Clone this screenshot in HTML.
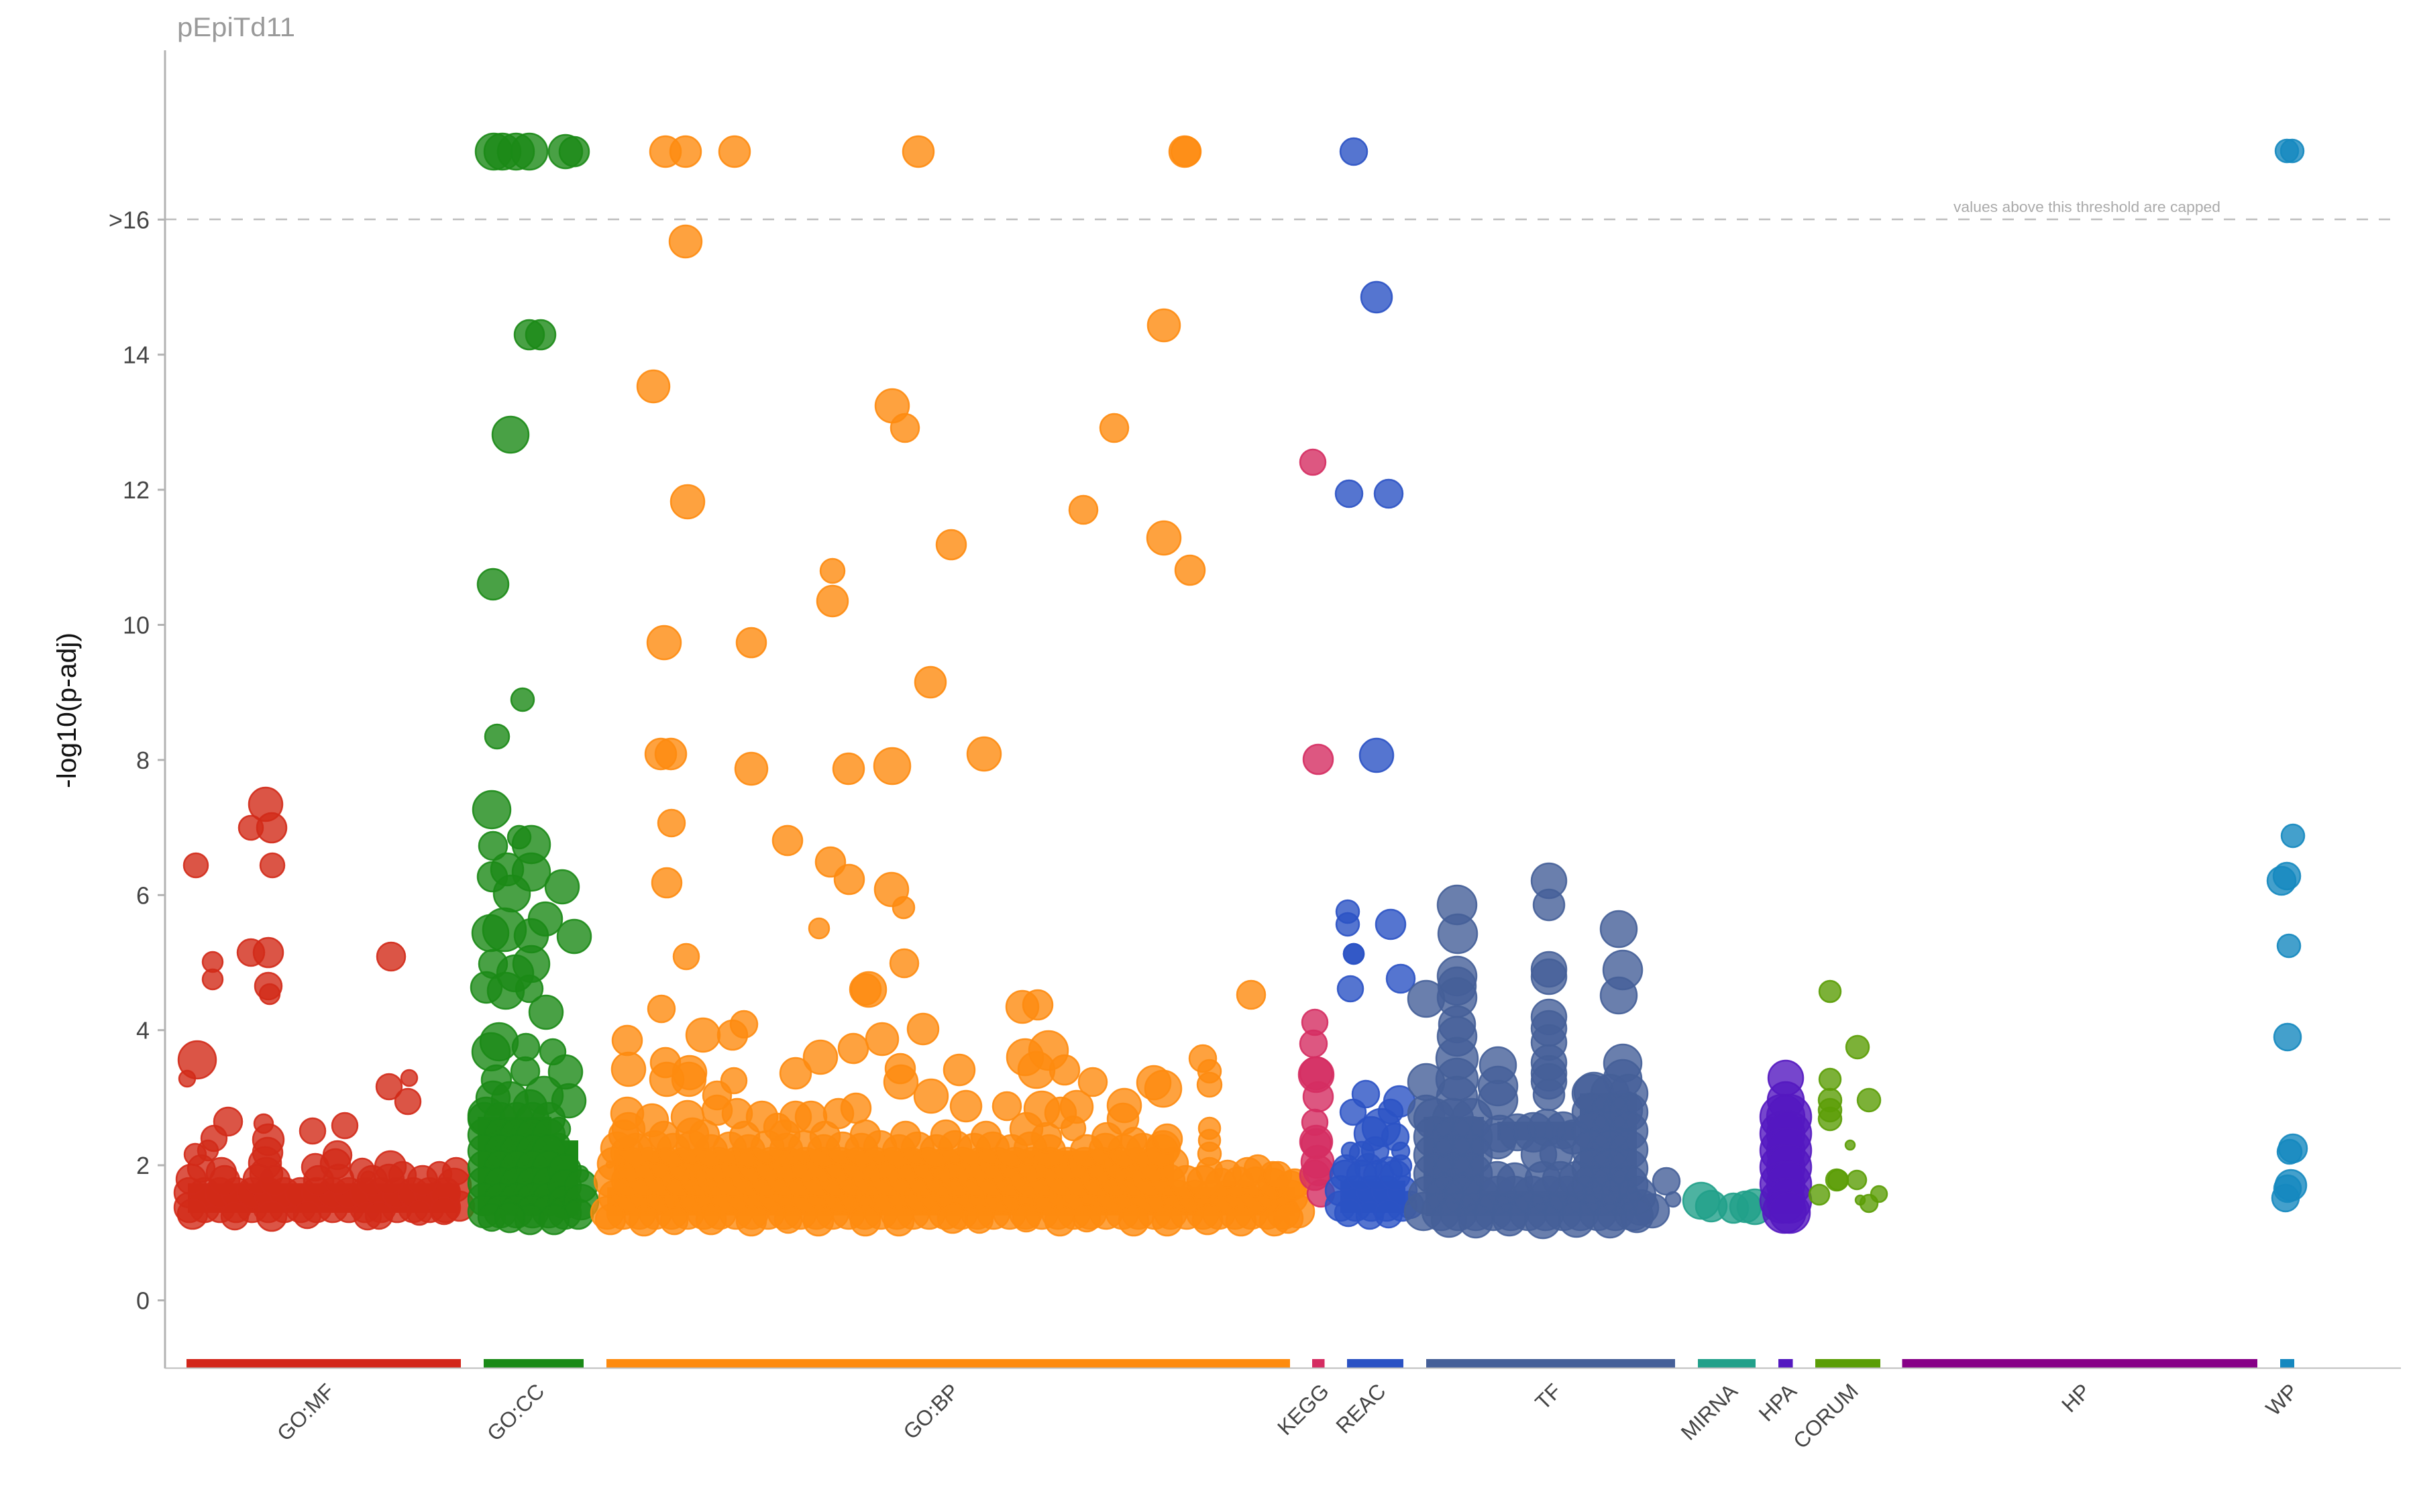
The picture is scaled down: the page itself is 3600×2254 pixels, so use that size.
<!DOCTYPE html>
<html><head><meta charset="utf-8"><style>
html,body{margin:0;padding:0;background:#fff}
svg{display:block}
text{font-family:"Liberation Sans",Arial,sans-serif}
.p circle{fill-opacity:.8;stroke-width:2.5;stroke-opacity:.9}
.mf{fill:#d22a18;stroke:#d22a18}
.cc{fill:#1b8a16;stroke:#1b8a16}
.bp{fill:#fe8b0f;stroke:#fe8b0f}
.kg{fill:#d52d62;stroke:#d52d62}
.re{fill:#2b52c4;stroke:#2b52c4}
.tf{fill:#455f98;stroke:#455f98}
.mi{fill:#21a08a;stroke:#21a08a}
.hpa{fill:#5418c0;stroke:#5418c0}
.co{fill:#5b9d06;stroke:#5b9d06}
.wp{fill:#1588bf;stroke:#1588bf}
</style></head><body>
<svg width="3600" height="2254" viewBox="0 0 3600 2254" xmlns="http://www.w3.org/2000/svg">
<rect width="3600" height="2254" fill="#fff"/>
<text x="264" y="54" font-size="40" fill="#9a9a9a" textLength="176" lengthAdjust="spacingAndGlyphs">pEpiTd11</text>
<line x1="246" y1="327" x2="3565" y2="327" stroke="#bdbdbd" stroke-width="2.5" stroke-dasharray="17 16"/>
<text x="3310" y="316" text-anchor="end" font-size="22" fill="#aaaaaa" textLength="398" lengthAdjust="spacingAndGlyphs">values above this threshold are capped</text>
<g stroke="#b3b3b3" stroke-width="3">
<line x1="246" y1="75" x2="246" y2="2040"/>
<line x1="235" y1="1938.5" x2="246" y2="1938.5"/>
<line x1="235" y1="1737.1" x2="246" y2="1737.1"/>
<line x1="235" y1="1535.7" x2="246" y2="1535.7"/>
<line x1="235" y1="1334.3" x2="246" y2="1334.3"/>
<line x1="235" y1="1132.9" x2="246" y2="1132.9"/>
<line x1="235" y1="931.5" x2="246" y2="931.5"/>
<line x1="235" y1="730.1" x2="246" y2="730.1"/>
<line x1="235" y1="528.7" x2="246" y2="528.7"/>
<line x1="235" y1="327.3" x2="246" y2="327.3"/>
</g>
<g font-size="36" fill="#444" text-anchor="end">
<text x="223" y="1951.5">0</text>
<text x="223" y="1750">2</text>
<text x="223" y="1548.7">4</text>
<text x="223" y="1347.3">6</text>
<text x="223" y="1145.9">8</text>
<text x="223" y="944.5">10</text>
<text x="223" y="743">12</text>
<text x="223" y="541.7">14</text>
<text x="223" y="340.3">&gt;16</text>
</g>
<text transform="translate(113,1059) rotate(-90)" text-anchor="middle" font-size="40" fill="#111" textLength="232" lengthAdjust="spacingAndGlyphs">-log10(p-adj)</text>

<!-- GO:MF -->
<g class="p mf">
<rect x="280" y="1764" width="405" height="44" stroke="none" fill-opacity="1"/>
<circle cx="396" cy="1199" r="25"/><circle cx="374" cy="1234" r="18"/><circle cx="405" cy="1234" r="22"/>
<circle cx="292" cy="1290" r="18"/><circle cx="406" cy="1290" r="18"/><circle cx="374" cy="1420" r="20"/>
<circle cx="400" cy="1420" r="22"/><circle cx="317" cy="1434" r="15"/><circle cx="317" cy="1460" r="15"/>
<circle cx="400" cy="1470" r="20"/><circle cx="402" cy="1482" r="15"/><circle cx="583" cy="1426" r="21"/>
<circle cx="294" cy="1580" r="28"/><circle cx="279" cy="1608" r="12"/><circle cx="580" cy="1620" r="19"/>
<circle cx="610" cy="1607" r="12"/><circle cx="608" cy="1642" r="19"/><circle cx="340" cy="1672" r="21"/>
<circle cx="393" cy="1675" r="14"/><circle cx="319" cy="1697" r="19"/><circle cx="466" cy="1686" r="19"/>
<circle cx="514" cy="1678" r="19"/><circle cx="400" cy="1699" r="23"/><circle cx="399" cy="1718" r="22"/>
<circle cx="503" cy="1722" r="21"/><circle cx="582" cy="1739" r="23"/><circle cx="291" cy="1721" r="16"/>
<circle cx="310" cy="1715" r="15"/><circle cx="677" cy="1767" r="25"/><circle cx="549" cy="1757" r="11"/>
<circle cx="300" cy="1742" r="20"/><circle cx="330" cy="1748" r="22"/><circle cx="395" cy="1734" r="24"/>
<circle cx="397" cy="1750" r="24"/><circle cx="470" cy="1740" r="20"/><circle cx="500" cy="1735" r="22"/>
<circle cx="540" cy="1745" r="18"/><circle cx="600" cy="1752" r="20"/><circle cx="655" cy="1750" r="18"/><circle cx="680" cy="1746" r="20"/>
<circle cx="282" cy="1800" r="22"/><circle cx="305" cy="1800" r="22"/><circle cx="328" cy="1800" r="22"/><circle cx="352" cy="1800" r="22"/>
<circle cx="376" cy="1800" r="22"/><circle cx="400" cy="1800" r="22"/><circle cx="424" cy="1800" r="22"/><circle cx="448" cy="1800" r="22"/>
<circle cx="472" cy="1800" r="22"/><circle cx="496" cy="1800" r="22"/><circle cx="520" cy="1800" r="22"/><circle cx="544" cy="1800" r="22"/>
<circle cx="568" cy="1800" r="22"/><circle cx="592" cy="1800" r="22"/><circle cx="616" cy="1800" r="22"/><circle cx="640" cy="1800" r="22"/>
<circle cx="664" cy="1800" r="22"/><circle cx="685" cy="1798" r="22"/>
<circle cx="282" cy="1778" r="22"/><circle cx="305" cy="1778" r="22"/><circle cx="328" cy="1778" r="22"/><circle cx="352" cy="1778" r="22"/>
<circle cx="376" cy="1778" r="22"/><circle cx="400" cy="1778" r="22"/><circle cx="424" cy="1778" r="22"/><circle cx="448" cy="1778" r="22"/>
<circle cx="472" cy="1778" r="22"/><circle cx="496" cy="1778" r="22"/><circle cx="520" cy="1778" r="22"/><circle cx="544" cy="1778" r="22"/>
<circle cx="568" cy="1778" r="22"/><circle cx="592" cy="1778" r="22"/><circle cx="616" cy="1778" r="22"/><circle cx="640" cy="1778" r="22"/>
<circle cx="664" cy="1778" r="22"/>
<circle cx="285" cy="1758" r="22"/><circle cx="335" cy="1760" r="22"/><circle cx="385" cy="1758" r="22"/>
<circle cx="410" cy="1760" r="22"/><circle cx="475" cy="1760" r="22"/><circle cx="505" cy="1758" r="22"/>
<circle cx="555" cy="1760" r="22"/><circle cx="580" cy="1758" r="22"/><circle cx="630" cy="1760" r="22"/>
<circle cx="287" cy="1810" r="22"/><circle cx="350" cy="1813" r="20"/><circle cx="405" cy="1813" r="22"/><circle cx="458" cy="1811" r="20"/>
<circle cx="548" cy="1813" r="20"/><circle cx="565" cy="1812" r="20"/><circle cx="625" cy="1808" r="18"/><circle cx="662" cy="1805" r="20"/>
</g>

<!-- GO:CC -->
<g class="p cc">
<rect x="712" y="1700" width="150" height="112" stroke="none" fill-opacity="1"/>
<rect x="712" y="1665" width="110" height="40" stroke="none" fill-opacity="1"/>
<circle cx="736" cy="226" r="27"/><circle cx="749" cy="226" r="27"/><circle cx="769" cy="226" r="27"/><circle cx="789" cy="226" r="27"/>
<circle cx="843" cy="226" r="25"/><circle cx="856" cy="226" r="22"/>
<circle cx="789" cy="499" r="22"/><circle cx="806" cy="499" r="22"/><circle cx="761" cy="648" r="27"/><circle cx="735" cy="871" r="23"/>
<circle cx="779" cy="1043" r="17"/><circle cx="741" cy="1098" r="18"/><circle cx="733" cy="1207" r="28"/>
<circle cx="735" cy="1261" r="21"/><circle cx="774" cy="1248" r="17"/><circle cx="792" cy="1259" r="28"/>
<circle cx="734" cy="1307" r="22"/><circle cx="756" cy="1296" r="24"/><circle cx="792" cy="1300" r="28"/>
<circle cx="763" cy="1332" r="27"/><circle cx="838" cy="1322" r="25"/><circle cx="813" cy="1370" r="25"/>
<circle cx="856" cy="1396" r="25"/><circle cx="731" cy="1391" r="27"/><circle cx="752" cy="1386" r="32"/>
<circle cx="792" cy="1395" r="25"/><circle cx="735" cy="1437" r="21"/><circle cx="792" cy="1437" r="27"/>
<circle cx="725" cy="1472" r="23"/><circle cx="754" cy="1477" r="27"/><circle cx="789" cy="1474" r="20"/>
<circle cx="768" cy="1451" r="27"/><circle cx="814" cy="1509" r="25"/><circle cx="732" cy="1568" r="28"/>
<circle cx="744" cy="1553" r="28"/><circle cx="784" cy="1561" r="20"/><circle cx="783" cy="1597" r="21"/>
<circle cx="824" cy="1568" r="19"/><circle cx="843" cy="1598" r="25"/><circle cx="811" cy="1633" r="28"/>
<circle cx="848" cy="1641" r="25"/><circle cx="725" cy="1663" r="27"/><circle cx="833" cy="1683" r="17"/>
<circle cx="834" cy="1705" r="15"/><circle cx="740" cy="1610" r="22"/><circle cx="735" cy="1637" r="25"/>
<circle cx="760" cy="1640" r="27"/><circle cx="790" cy="1650" r="25"/><circle cx="865" cy="1750" r="12"/>
<circle cx="722" cy="1668" r="24"/><circle cx="746" cy="1668" r="24"/><circle cx="770" cy="1668" r="24"/><circle cx="794" cy="1668" r="24"/><circle cx="818" cy="1668" r="24"/>
<circle cx="722" cy="1692" r="24"/><circle cx="746" cy="1692" r="24"/><circle cx="770" cy="1692" r="24"/><circle cx="794" cy="1692" r="24"/><circle cx="818" cy="1692" r="24"/>
<circle cx="722" cy="1716" r="24"/><circle cx="746" cy="1716" r="24"/><circle cx="770" cy="1716" r="24"/><circle cx="794" cy="1716" r="24"/><circle cx="818" cy="1716" r="24"/>
<circle cx="722" cy="1740" r="24"/><circle cx="746" cy="1740" r="24"/><circle cx="770" cy="1740" r="24"/><circle cx="794" cy="1740" r="24"/><circle cx="818" cy="1740" r="24"/>
<circle cx="722" cy="1764" r="24"/><circle cx="746" cy="1764" r="24"/><circle cx="770" cy="1764" r="24"/><circle cx="794" cy="1764" r="24"/><circle cx="818" cy="1764" r="24"/>
<circle cx="722" cy="1788" r="24"/><circle cx="746" cy="1788" r="24"/><circle cx="770" cy="1788" r="24"/><circle cx="794" cy="1788" r="24"/><circle cx="818" cy="1788" r="24"/>
<circle cx="722" cy="1806" r="24"/><circle cx="746" cy="1806" r="24"/><circle cx="770" cy="1806" r="24"/><circle cx="794" cy="1806" r="24"/><circle cx="818" cy="1806" r="24"/>
<circle cx="842" cy="1745" r="24"/><circle cx="842" cy="1768" r="24"/><circle cx="842" cy="1792" r="24"/><circle cx="842" cy="1808" r="24"/>
<circle cx="866" cy="1768" r="24"/><circle cx="866" cy="1792" r="26"/><circle cx="862" cy="1810" r="22"/>
<circle cx="733" cy="1815" r="20"/><circle cx="790" cy="1818" r="22"/><circle cx="826" cy="1818" r="22"/><circle cx="760" cy="1815" r="22"/>
</g>

<!-- GO:BP -->
<g class="p bp">
<rect x="905" y="1770" width="1025" height="42" stroke="none" fill-opacity="1"/>
<rect x="915" y="1715" width="835" height="57" stroke="none" fill-opacity="1"/>
<circle cx="992" cy="226" r="23"/><circle cx="1022" cy="226" r="23"/><circle cx="1095" cy="226" r="23"/>
<circle cx="1369" cy="226" r="23"/><circle cx="1766" cy="226" r="23"/><circle cx="1768" cy="226" r="22"/>
<circle cx="1022" cy="360" r="24"/><circle cx="974" cy="576" r="24"/><circle cx="1025" cy="748" r="25"/>
<circle cx="1241" cy="851" r="18"/><circle cx="1241" cy="896" r="23"/><circle cx="990" cy="958" r="25"/>
<circle cx="1120" cy="958" r="22"/><circle cx="985" cy="1124" r="23"/><circle cx="1000" cy="1124" r="23"/>
<circle cx="1120" cy="1146" r="24"/><circle cx="1265" cy="1146" r="23"/><circle cx="1735" cy="485" r="24"/>
<circle cx="1330" cy="605" r="25"/><circle cx="1349" cy="638" r="21"/><circle cx="1661" cy="638" r="21"/>
<circle cx="1615" cy="760" r="21"/><circle cx="1418" cy="812" r="22"/><circle cx="1735" cy="802" r="25"/>
<circle cx="1774" cy="850" r="22"/><circle cx="1387" cy="1017" r="23"/><circle cx="1330" cy="1142" r="27"/>
<circle cx="1467" cy="1124" r="25"/><circle cx="1001" cy="1227" r="20"/><circle cx="1174" cy="1253" r="22"/>
<circle cx="1238" cy="1285" r="22"/><circle cx="1266" cy="1311" r="22"/><circle cx="994" cy="1316" r="22"/>
<circle cx="1221" cy="1384" r="15"/><circle cx="1023" cy="1426" r="19"/><circle cx="1290" cy="1475" r="23"/>
<circle cx="986" cy="1504" r="20"/><circle cx="1048" cy="1543" r="25"/><circle cx="1092" cy="1543" r="22"/>
<circle cx="1109" cy="1527" r="20"/><circle cx="935" cy="1551" r="22"/><circle cx="937" cy="1594" r="25"/>
<circle cx="992" cy="1584" r="22"/><circle cx="994" cy="1609" r="25"/><circle cx="1027" cy="1609" r="25"/>
<circle cx="1028" cy="1599" r="25"/><circle cx="1094" cy="1611" r="19"/><circle cx="1069" cy="1633" r="21"/>
<circle cx="1223" cy="1576" r="25"/><circle cx="1186" cy="1600" r="23"/><circle cx="1272" cy="1563" r="22"/>
<circle cx="1329" cy="1326" r="25"/><circle cx="1347" cy="1353" r="16"/><circle cx="1348" cy="1436" r="21"/>
<circle cx="1295" cy="1475" r="26"/><circle cx="1524" cy="1501" r="24"/><circle cx="1547" cy="1498" r="22"/>
<circle cx="1865" cy="1483" r="21"/><circle cx="1315" cy="1549" r="24"/><circle cx="1376" cy="1534" r="23"/>
<circle cx="1342" cy="1593" r="22"/><circle cx="1343" cy="1613" r="25"/><circle cx="1430" cy="1595" r="23"/>
<circle cx="1528" cy="1576" r="27"/><circle cx="1563" cy="1566" r="29"/><circle cx="1545" cy="1595" r="27"/>
<circle cx="1587" cy="1595" r="22"/><circle cx="1629" cy="1613" r="21"/><circle cx="1793" cy="1578" r="20"/>
<circle cx="1803" cy="1597" r="17"/><circle cx="1803" cy="1617" r="18"/><circle cx="1720" cy="1614" r="25"/>
<circle cx="1734" cy="1623" r="27"/><circle cx="1388" cy="1634" r="25"/><circle cx="1440" cy="1649" r="23"/>
<circle cx="1501" cy="1649" r="21"/><circle cx="1553" cy="1653" r="26"/><circle cx="1581" cy="1659" r="23"/>
<circle cx="1605" cy="1650" r="24"/><circle cx="1676" cy="1648" r="25"/><circle cx="1674" cy="1668" r="23"/>
<circle cx="1803" cy="1682" r="16"/><circle cx="1803" cy="1700" r="16"/><circle cx="1803" cy="1720" r="17"/>
<circle cx="1803" cy="1745" r="19"/><circle cx="1530" cy="1683" r="24"/><circle cx="1600" cy="1682" r="18"/>
<circle cx="1690" cy="1700" r="19"/><circle cx="1734" cy="1711" r="25"/><circle cx="1875" cy="1742" r="20"/>
<circle cx="1897" cy="1750" r="18"/><circle cx="935" cy="1660" r="24"/><circle cx="937" cy="1683" r="24"/>
<circle cx="972" cy="1670" r="24"/><circle cx="1025" cy="1665" r="24"/><circle cx="1032" cy="1691" r="24"/>
<circle cx="1069" cy="1655" r="22"/><circle cx="1099" cy="1660" r="22"/><circle cx="1136" cy="1665" r="23"/>
<circle cx="1159" cy="1680" r="20"/><circle cx="1186" cy="1665" r="23"/><circle cx="1209" cy="1665" r="23"/>
<circle cx="1250" cy="1660" r="22"/><circle cx="1276" cy="1652" r="22"/><circle cx="935" cy="1719" r="24"/>
<circle cx="909" cy="1736" r="5"/>
<circle cx="905" cy="1808" r="24"/><circle cx="929" cy="1808" r="24"/><circle cx="953" cy="1808" r="24"/><circle cx="977" cy="1808" r="24"/>
<circle cx="1001" cy="1808" r="24"/><circle cx="1025" cy="1808" r="24"/><circle cx="1049" cy="1808" r="24"/><circle cx="1073" cy="1808" r="24"/>
<circle cx="1097" cy="1808" r="24"/><circle cx="1121" cy="1808" r="24"/><circle cx="1145" cy="1808" r="24"/><circle cx="1169" cy="1808" r="24"/>
<circle cx="1193" cy="1808" r="24"/><circle cx="1217" cy="1808" r="24"/><circle cx="1241" cy="1808" r="24"/><circle cx="1265" cy="1808" r="24"/>
<circle cx="1289" cy="1808" r="24"/><circle cx="1313" cy="1808" r="24"/><circle cx="1337" cy="1808" r="24"/><circle cx="1361" cy="1808" r="24"/>
<circle cx="1385" cy="1808" r="24"/><circle cx="1409" cy="1808" r="24"/><circle cx="1433" cy="1808" r="24"/><circle cx="1457" cy="1808" r="24"/>
<circle cx="1481" cy="1808" r="24"/><circle cx="1505" cy="1808" r="24"/><circle cx="1529" cy="1808" r="24"/><circle cx="1553" cy="1808" r="24"/>
<circle cx="1577" cy="1808" r="24"/><circle cx="1601" cy="1808" r="24"/><circle cx="1625" cy="1808" r="24"/><circle cx="1649" cy="1808" r="24"/>
<circle cx="1673" cy="1808" r="24"/><circle cx="1697" cy="1808" r="24"/><circle cx="1721" cy="1808" r="24"/><circle cx="1745" cy="1808" r="24"/>
<circle cx="1769" cy="1808" r="24"/><circle cx="1793" cy="1808" r="24"/><circle cx="1817" cy="1808" r="24"/><circle cx="1841" cy="1808" r="24"/>
<circle cx="1865" cy="1808" r="24"/><circle cx="1889" cy="1808" r="24"/><circle cx="1913" cy="1808" r="24"/><circle cx="1935" cy="1806" r="24"/>
<circle cx="917" cy="1784" r="24"/><circle cx="941" cy="1784" r="24"/><circle cx="965" cy="1784" r="24"/><circle cx="989" cy="1784" r="24"/>
<circle cx="1013" cy="1784" r="24"/><circle cx="1037" cy="1784" r="24"/><circle cx="1061" cy="1784" r="24"/><circle cx="1085" cy="1784" r="24"/>
<circle cx="1109" cy="1784" r="24"/><circle cx="1133" cy="1784" r="24"/><circle cx="1157" cy="1784" r="24"/><circle cx="1181" cy="1784" r="24"/>
<circle cx="1205" cy="1784" r="24"/><circle cx="1229" cy="1784" r="24"/><circle cx="1253" cy="1784" r="24"/><circle cx="1277" cy="1784" r="24"/>
<circle cx="1301" cy="1784" r="24"/><circle cx="1325" cy="1784" r="24"/><circle cx="1349" cy="1784" r="24"/><circle cx="1373" cy="1784" r="24"/>
<circle cx="1397" cy="1784" r="24"/><circle cx="1421" cy="1784" r="24"/><circle cx="1445" cy="1784" r="24"/><circle cx="1469" cy="1784" r="24"/>
<circle cx="1493" cy="1784" r="24"/><circle cx="1517" cy="1784" r="24"/><circle cx="1541" cy="1784" r="24"/><circle cx="1565" cy="1784" r="24"/>
<circle cx="1589" cy="1784" r="24"/><circle cx="1613" cy="1784" r="24"/><circle cx="1637" cy="1784" r="24"/><circle cx="1661" cy="1784" r="24"/>
<circle cx="1685" cy="1784" r="24"/><circle cx="1709" cy="1784" r="24"/><circle cx="1733" cy="1784" r="24"/><circle cx="1757" cy="1784" r="24"/>
<circle cx="1781" cy="1784" r="24"/><circle cx="1805" cy="1784" r="24"/><circle cx="1829" cy="1784" r="24"/><circle cx="1853" cy="1784" r="24"/>
<circle cx="1877" cy="1784" r="24"/><circle cx="1901" cy="1784" r="24"/><circle cx="1925" cy="1784" r="24"/>
<circle cx="910" cy="1760" r="24"/><circle cx="936" cy="1760" r="24"/><circle cx="962" cy="1760" r="24"/><circle cx="988" cy="1760" r="24"/>
<circle cx="1014" cy="1760" r="24"/><circle cx="1040" cy="1760" r="24"/><circle cx="1066" cy="1760" r="24"/><circle cx="1092" cy="1760" r="24"/>
<circle cx="1118" cy="1760" r="24"/><circle cx="1144" cy="1760" r="24"/><circle cx="1170" cy="1760" r="24"/><circle cx="1196" cy="1760" r="24"/>
<circle cx="1222" cy="1760" r="24"/><circle cx="1248" cy="1760" r="24"/><circle cx="1274" cy="1760" r="24"/><circle cx="1300" cy="1760" r="24"/>
<circle cx="1326" cy="1760" r="24"/><circle cx="1352" cy="1760" r="24"/><circle cx="1378" cy="1760" r="24"/><circle cx="1404" cy="1760" r="24"/>
<circle cx="1430" cy="1760" r="24"/><circle cx="1456" cy="1760" r="24"/><circle cx="1482" cy="1760" r="24"/><circle cx="1508" cy="1760" r="24"/>
<circle cx="1534" cy="1760" r="24"/><circle cx="1560" cy="1760" r="24"/><circle cx="1586" cy="1760" r="24"/><circle cx="1612" cy="1760" r="24"/>
<circle cx="1638" cy="1760" r="24"/><circle cx="1664" cy="1760" r="24"/><circle cx="1690" cy="1760" r="24"/><circle cx="1716" cy="1760" r="24"/>
<circle cx="1742" cy="1760" r="24"/><circle cx="1768" cy="1762" r="24"/><circle cx="1794" cy="1762" r="24"/><circle cx="1820" cy="1764" r="22"/>
<circle cx="1846" cy="1762" r="22"/><circle cx="1872" cy="1762" r="22"/><circle cx="1898" cy="1764" r="22"/><circle cx="1924" cy="1768" r="22"/>
<circle cx="915" cy="1735" r="24"/><circle cx="941" cy="1735" r="24"/><circle cx="967" cy="1735" r="24"/><circle cx="993" cy="1735" r="24"/>
<circle cx="1019" cy="1735" r="24"/><circle cx="1045" cy="1735" r="24"/><circle cx="1071" cy="1735" r="24"/><circle cx="1097" cy="1735" r="24"/>
<circle cx="1123" cy="1735" r="24"/><circle cx="1149" cy="1735" r="24"/><circle cx="1175" cy="1735" r="24"/><circle cx="1201" cy="1735" r="24"/>
<circle cx="1227" cy="1735" r="24"/><circle cx="1253" cy="1735" r="24"/><circle cx="1279" cy="1735" r="24"/><circle cx="1305" cy="1735" r="24"/>
<circle cx="1331" cy="1735" r="24"/><circle cx="1357" cy="1735" r="24"/><circle cx="1383" cy="1735" r="24"/><circle cx="1409" cy="1735" r="24"/>
<circle cx="1435" cy="1735" r="24"/><circle cx="1461" cy="1735" r="24"/><circle cx="1487" cy="1735" r="24"/><circle cx="1513" cy="1735" r="24"/>
<circle cx="1539" cy="1735" r="24"/><circle cx="1565" cy="1735" r="24"/><circle cx="1591" cy="1735" r="24"/><circle cx="1617" cy="1735" r="24"/>
<circle cx="1643" cy="1735" r="24"/><circle cx="1669" cy="1735" r="24"/><circle cx="1695" cy="1735" r="24"/><circle cx="1721" cy="1735" r="24"/>
<circle cx="1747" cy="1735" r="24"/>
<circle cx="920" cy="1712" r="24"/><circle cx="948" cy="1714" r="24"/><circle cx="976" cy="1710" r="24"/><circle cx="1004" cy="1714" r="24"/>
<circle cx="1032" cy="1710" r="24"/><circle cx="1060" cy="1716" r="24"/><circle cx="1088" cy="1712" r="24"/><circle cx="1116" cy="1716" r="24"/>
<circle cx="1144" cy="1710" r="24"/><circle cx="1172" cy="1714" r="24"/><circle cx="1200" cy="1710" r="24"/><circle cx="1228" cy="1716" r="24"/>
<circle cx="1256" cy="1712" r="24"/><circle cx="1284" cy="1714" r="24"/><circle cx="1312" cy="1710" r="24"/><circle cx="1340" cy="1716" r="24"/>
<circle cx="1368" cy="1712" r="24"/><circle cx="1396" cy="1716" r="24"/><circle cx="1424" cy="1710" r="24"/><circle cx="1452" cy="1714" r="24"/>
<circle cx="1480" cy="1712" r="24"/><circle cx="1508" cy="1716" r="24"/><circle cx="1536" cy="1712" r="24"/><circle cx="1564" cy="1716" r="24"/>
<circle cx="1620" cy="1716" r="24"/><circle cx="1648" cy="1714" r="24"/><circle cx="1676" cy="1716" r="24"/><circle cx="1704" cy="1714" r="24"/>
<circle cx="1732" cy="1716" r="24"/>
<circle cx="930" cy="1692" r="22"/><circle cx="990" cy="1694" r="22"/><circle cx="1050" cy="1692" r="22"/><circle cx="1110" cy="1694" r="22"/>
<circle cx="1170" cy="1692" r="22"/><circle cx="1230" cy="1694" r="22"/><circle cx="1290" cy="1692" r="22"/><circle cx="1350" cy="1694" r="22"/>
<circle cx="1410" cy="1692" r="22"/><circle cx="1470" cy="1694" r="22"/><circle cx="1560" cy="1696" r="22"/><circle cx="1650" cy="1696" r="22"/>
<circle cx="1740" cy="1698" r="22"/>
<circle cx="1830" cy="1750" r="20"/><circle cx="1860" cy="1748" r="22"/><circle cx="1905" cy="1752" r="20"/><circle cx="1930" cy="1765" r="22"/>
<circle cx="910" cy="1818" r="22"/><circle cx="960" cy="1820" r="22"/><circle cx="1005" cy="1820" r="20"/><circle cx="1060" cy="1818" r="22"/>
<circle cx="1120" cy="1820" r="22"/><circle cx="1175" cy="1818" r="20"/><circle cx="1220" cy="1820" r="22"/><circle cx="1290" cy="1820" r="22"/>
<circle cx="1340" cy="1820" r="22"/><circle cx="1420" cy="1816" r="22"/><circle cx="1460" cy="1818" r="20"/><circle cx="1530" cy="1816" r="20"/>
<circle cx="1580" cy="1820" r="22"/><circle cx="1620" cy="1816" r="20"/><circle cx="1690" cy="1820" r="22"/><circle cx="1740" cy="1820" r="22"/>
<circle cx="1800" cy="1818" r="22"/><circle cx="1850" cy="1820" r="22"/><circle cx="1900" cy="1820" r="22"/><circle cx="1920" cy="1816" r="22"/>
</g>

<!-- KEGG -->
<g class="p kg">
<circle cx="1957" cy="689" r="19"/><circle cx="1965" cy="1132" r="22"/><circle cx="1960" cy="1524" r="19"/>
<circle cx="1958" cy="1556" r="20"/><circle cx="1962" cy="1602" r="26"/><circle cx="1962" cy="1600" r="24"/>
<circle cx="1965" cy="1635" r="22"/><circle cx="1960" cy="1673" r="19"/><circle cx="1962" cy="1702" r="24"/>
<circle cx="1962" cy="1705" r="22"/><circle cx="1964" cy="1732" r="24"/><circle cx="1960" cy="1752" r="22"/>
<circle cx="1965" cy="1745" r="22"/><circle cx="1969" cy="1779" r="20"/>
</g>

<!-- REAC -->
<g class="p re">
<rect x="1998" y="1760" width="97" height="48" stroke="none" fill-opacity="1"/>
<circle cx="2018" cy="226" r="20"/><circle cx="2052" cy="443" r="23"/><circle cx="2011" cy="736" r="20"/>
<circle cx="2070" cy="736" r="21"/><circle cx="2052" cy="1126" r="25"/><circle cx="2009" cy="1359" r="17"/>
<circle cx="2009" cy="1378" r="17"/><circle cx="2073" cy="1378" r="22"/><circle cx="2018" cy="1422" r="15"/>
<circle cx="2018" cy="1422" r="15"/><circle cx="2013" cy="1474" r="19"/><circle cx="2088" cy="1459" r="21"/>
<circle cx="2036" cy="1631" r="20"/><circle cx="2017" cy="1658" r="19"/><circle cx="2086" cy="1642" r="23"/>
<circle cx="2073" cy="1657" r="18"/><circle cx="2059" cy="1681" r="28"/><circle cx="2044" cy="1690" r="25"/>
<circle cx="2080" cy="1695" r="20"/><circle cx="2013" cy="1716" r="13"/><circle cx="2088" cy="1716" r="13"/>
<circle cx="2007" cy="1742" r="20"/><circle cx="2040" cy="1740" r="20"/><circle cx="2070" cy="1745" r="20"/><circle cx="2088" cy="1738" r="16"/>
<circle cx="2050" cy="1715" r="20"/><circle cx="2030" cy="1720" r="18"/>
<circle cx="1998" cy="1798" r="22"/><circle cx="2021" cy="1798" r="22"/><circle cx="2044" cy="1798" r="22"/><circle cx="2067" cy="1798" r="22"/>
<circle cx="2090" cy="1798" r="22"/><circle cx="2102" cy="1796" r="20"/>
<circle cx="1998" cy="1775" r="22"/><circle cx="2021" cy="1775" r="22"/><circle cx="2044" cy="1775" r="22"/><circle cx="2067" cy="1775" r="22"/><circle cx="2090" cy="1775" r="22"/>
<circle cx="2005" cy="1752" r="22"/><circle cx="2030" cy="1752" r="22"/><circle cx="2055" cy="1752" r="22"/><circle cx="2080" cy="1752" r="22"/>
<circle cx="2042" cy="1812" r="20"/><circle cx="2070" cy="1810" r="20"/><circle cx="2010" cy="1808" r="20"/>
</g>

<!-- TF -->
<g class="p tf">
<rect x="2125" y="1775" width="320" height="38" stroke="none" fill-opacity="1"/>
<rect x="2122" y="1665" width="90" height="110" stroke="none" fill-opacity="1"/>
<rect x="2355" y="1630" width="85" height="145" stroke="none" fill-opacity="1"/>
<rect x="2232" y="1672" width="118" height="28" stroke="none" fill-opacity="1"/>
<circle cx="2172" cy="1349" r="29"/><circle cx="2173" cy="1392" r="29"/><circle cx="2172" cy="1455" r="29"/>
<circle cx="2172" cy="1470" r="28"/><circle cx="2172" cy="1487" r="29"/><circle cx="2172" cy="1527" r="27"/>
<circle cx="2172" cy="1545" r="29"/><circle cx="2172" cy="1578" r="31"/><circle cx="2172" cy="1609" r="31"/>
<circle cx="2172" cy="1635" r="30"/>
<circle cx="2126" cy="1489" r="27"/><circle cx="2126" cy="1613" r="27"/><circle cx="2126" cy="1660" r="27"/>
<circle cx="2233" cy="1588" r="27"/><circle cx="2233" cy="1619" r="29"/><circle cx="2233" cy="1640" r="29"/>
<circle cx="2233" cy="1701" r="26"/><circle cx="2309" cy="1313" r="26"/><circle cx="2309" cy="1349" r="23"/>
<circle cx="2309" cy="1445" r="26"/><circle cx="2309" cy="1456" r="26"/><circle cx="2309" cy="1516" r="26"/>
<circle cx="2309" cy="1533" r="26"/><circle cx="2309" cy="1554" r="26"/><circle cx="2309" cy="1584" r="26"/>
<circle cx="2309" cy="1600" r="26"/><circle cx="2309" cy="1612" r="26"/><circle cx="2309" cy="1632" r="23"/>
<circle cx="2413" cy="1385" r="27"/><circle cx="2419" cy="1446" r="29"/><circle cx="2413" cy="1484" r="27"/>
<circle cx="2419" cy="1585" r="28"/><circle cx="2419" cy="1608" r="28"/><circle cx="2376" cy="1628" r="29"/>
<circle cx="2419" cy="1655" r="29"/>
<circle cx="2236" cy="1690" r="27"/><circle cx="2262" cy="1688" r="27"/><circle cx="2286" cy="1688" r="29"/>
<circle cx="2306" cy="1681" r="27"/><circle cx="2330" cy="1685" r="27"/><circle cx="2345" cy="1695" r="25"/>
<circle cx="2294" cy="1721" r="26"/><circle cx="2320" cy="1720" r="24"/>
<circle cx="2484" cy="1761" r="20"/><circle cx="2494" cy="1788" r="11"/><circle cx="2463" cy="1805" r="25"/>
<circle cx="2138" cy="1668" r="30"/><circle cx="2166" cy="1668" r="30"/><circle cx="2194" cy="1668" r="30"/>
<circle cx="2138" cy="1695" r="30"/><circle cx="2166" cy="1695" r="30"/><circle cx="2194" cy="1695" r="30"/>
<circle cx="2138" cy="1722" r="30"/><circle cx="2166" cy="1722" r="30"/><circle cx="2194" cy="1722" r="30"/>
<circle cx="2138" cy="1750" r="30"/><circle cx="2166" cy="1750" r="30"/><circle cx="2194" cy="1750" r="30"/>
<circle cx="2122" cy="1806" r="28"/><circle cx="2148" cy="1806" r="28"/><circle cx="2174" cy="1806" r="28"/><circle cx="2200" cy="1806" r="28"/>
<circle cx="2226" cy="1806" r="28"/><circle cx="2252" cy="1806" r="28"/><circle cx="2278" cy="1806" r="28"/><circle cx="2304" cy="1806" r="28"/>
<circle cx="2330" cy="1806" r="28"/><circle cx="2356" cy="1806" r="28"/><circle cx="2382" cy="1806" r="28"/><circle cx="2408" cy="1806" r="28"/>
<circle cx="2434" cy="1806" r="28"/><circle cx="2446" cy="1800" r="26"/>
<circle cx="2128" cy="1782" r="28"/><circle cx="2154" cy="1782" r="28"/><circle cx="2180" cy="1782" r="28"/><circle cx="2206" cy="1782" r="28"/>
<circle cx="2232" cy="1782" r="28"/><circle cx="2258" cy="1782" r="28"/><circle cx="2284" cy="1782" r="28"/><circle cx="2310" cy="1782" r="28"/>
<circle cx="2336" cy="1782" r="28"/><circle cx="2362" cy="1782" r="28"/><circle cx="2388" cy="1782" r="28"/><circle cx="2414" cy="1782" r="28"/>
<circle cx="2440" cy="1782" r="28"/>
<circle cx="2232" cy="1758" r="26"/><circle cx="2258" cy="1760" r="26"/><circle cx="2300" cy="1758" r="26"/><circle cx="2326" cy="1758" r="26"/><circle cx="2350" cy="1758" r="26"/>
<circle cx="2372" cy="1630" r="28"/><circle cx="2400" cy="1630" r="28"/><circle cx="2428" cy="1630" r="28"/>
<circle cx="2372" cy="1658" r="28"/><circle cx="2400" cy="1658" r="28"/><circle cx="2428" cy="1658" r="28"/>
<circle cx="2372" cy="1686" r="28"/><circle cx="2400" cy="1686" r="28"/><circle cx="2428" cy="1686" r="28"/>
<circle cx="2372" cy="1714" r="28"/><circle cx="2400" cy="1714" r="28"/><circle cx="2428" cy="1714" r="28"/>
<circle cx="2372" cy="1742" r="28"/><circle cx="2400" cy="1742" r="28"/><circle cx="2428" cy="1742" r="28"/>
<circle cx="2372" cy="1766" r="28"/><circle cx="2400" cy="1766" r="28"/><circle cx="2428" cy="1766" r="28"/>
<circle cx="2160" cy="1818" r="26"/><circle cx="2200" cy="1820" r="25"/><circle cx="2250" cy="1818" r="24"/><circle cx="2300" cy="1820" r="26"/>
<circle cx="2350" cy="1818" r="26"/><circle cx="2400" cy="1820" r="25"/><circle cx="2440" cy="1813" r="24"/>
</g>

<!-- MIRNA -->
<g class="p mi">
<circle cx="2536" cy="1790" r="27"/><circle cx="2551" cy="1798" r="23"/><circle cx="2584" cy="1801" r="22"/>
<circle cx="2602" cy="1799" r="23"/><circle cx="2616" cy="1799" r="26"/>
</g>

<!-- HPA -->
<g class="p hpa">
<rect x="2638" y="1665" width="48" height="145" stroke="none" fill-opacity="1"/>
<circle cx="2662" cy="1607" r="26"/><circle cx="2662" cy="1640" r="27"/>
<circle cx="2657" cy="1665" r="33"/><circle cx="2667" cy="1665" r="33"/>
<circle cx="2657" cy="1690" r="33"/><circle cx="2667" cy="1690" r="33"/>
<circle cx="2657" cy="1715" r="33"/><circle cx="2667" cy="1715" r="33"/>
<circle cx="2657" cy="1740" r="33"/><circle cx="2667" cy="1740" r="33"/>
<circle cx="2657" cy="1765" r="33"/><circle cx="2667" cy="1765" r="33"/>
<circle cx="2657" cy="1790" r="33"/><circle cx="2667" cy="1790" r="33"/>
<circle cx="2660" cy="1806" r="32"/><circle cx="2668" cy="1808" r="30"/>
</g>

<!-- CORUM -->
<g class="p co">
<circle cx="2728" cy="1478" r="16"/><circle cx="2769" cy="1561" r="17"/><circle cx="2728" cy="1609" r="16"/>
<circle cx="2786" cy="1640" r="17"/><circle cx="2728" cy="1640" r="17"/><circle cx="2728" cy="1655" r="17"/>
<circle cx="2728" cy="1668" r="17"/><circle cx="2758" cy="1707" r="7"/><circle cx="2738" cy="1759" r="16"/>
<circle cx="2740" cy="1759" r="15"/><circle cx="2768" cy="1759" r="14"/><circle cx="2712" cy="1781" r="15"/>
<circle cx="2801" cy="1780" r="12"/><circle cx="2786" cy="1794" r="13"/><circle cx="2773" cy="1789" r="7"/>
</g>

<!-- WP -->
<g class="p wp">
<circle cx="3409" cy="225" r="17"/><circle cx="3417" cy="225" r="17"/><circle cx="3418" cy="1246" r="17"/>
<circle cx="3401" cy="1313" r="21"/><circle cx="3409" cy="1306" r="20"/><circle cx="3412" cy="1410" r="17"/>
<circle cx="3410" cy="1546" r="20"/><circle cx="3418" cy="1712" r="21"/><circle cx="3413" cy="1717" r="18"/>
<circle cx="3415" cy="1767" r="23"/><circle cx="3407" cy="1786" r="20"/><circle cx="3410" cy="1772" r="20"/>
</g>

<!-- category bars -->
<g>
<rect x="278" y="2026" width="409" height="13" fill="#d3261a"/>
<rect x="721" y="2026" width="149" height="13" fill="#1a8a17"/>
<rect x="904" y="2026" width="1019" height="13" fill="#fe8b0f"/>
<rect x="1956" y="2026" width="18.5" height="13" fill="#d52d62"/>
<rect x="2008" y="2026" width="84" height="13" fill="#2b52c4"/>
<rect x="2126" y="2026" width="371" height="13" fill="#455f98"/>
<rect x="2531" y="2026" width="86" height="13" fill="#21a08a"/>
<rect x="2651" y="2026" width="21.5" height="13" fill="#5418c0"/>
<rect x="2706" y="2026" width="97" height="13" fill="#5b9d06"/>
<rect x="2835.5" y="2026" width="529.5" height="13" fill="#870087"/>
<rect x="3399" y="2026" width="21" height="13" fill="#1588bf"/>
</g>
<line x1="246" y1="2039.5" x2="3579" y2="2039.5" stroke="#bdbdbd" stroke-width="2"/>

<g font-size="32" fill="#444" text-anchor="end">
<text transform="translate(500.5,2076) rotate(-45)">GO:MF</text>
<text transform="translate(813.5,2076) rotate(-45)">GO:CC</text>
<text transform="translate(1431.5,2076) rotate(-45)">GO:BP</text>
<text transform="translate(1983,2076) rotate(-45)">KEGG</text>
<text transform="translate(2067.7,2076) rotate(-45)">REAC</text>
<text transform="translate(2329.5,2076) rotate(-45)">TF</text>
<text transform="translate(2592,2076) rotate(-45)">MIRNA</text>
<text transform="translate(2680,2076) rotate(-45)">HPA</text>
<text transform="translate(2772,2076) rotate(-45)">CORUM</text>
<text transform="translate(3118,2076) rotate(-45)">HP</text>
<text transform="translate(3427.5,2076) rotate(-45)">WP</text>
</g>
</svg>
</body></html>
